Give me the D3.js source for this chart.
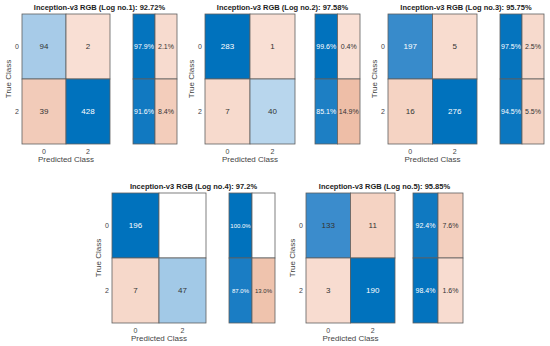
<!DOCTYPE html>
<html>
<head>
<meta charset="utf-8">
<script src="https://cdnjs.cloudflare.com/ajax/libs/d3/7.8.5/d3.min.js"></script>
<style>
body { margin: 0; background: #fff; }
svg { font-family: "Liberation Sans", Arial, sans-serif; }
</style>
</head>
<body>
<div id="svg"></div>
<script>

// data
var classLabels = ["0", "2"];
var logNames = ["Log no.1", "Log no.2", "Log no.3", "Log no.4", "Log no.5"];
var accuracies = ["92.72%", "97.58%", "95.75%", "97.2%", "95.85%"];
var counts = [
    [[94, 2], [39, 428]],
    [[283, 1], [7, 40]],
    [[197, 5], [16, 276]],
    [[196, 0], [7, 47]],
    [[133, 11], [3, 190]]
];
var rowPct = [
    [[97.9, 2.1], [91.6, 8.4]],
    [[99.6, 0.4], [85.1, 14.9]],
    [[97.5, 2.5], [94.5, 5.5]],
    [[100.0, 0], [87.0, 13.0]],
    [[92.4, 7.6], [98.4, 1.6]]
];

// panel boxes (matrix x/width, summary x/width, top, bottom)
var boxes = [
    {mx: 22,  mw: 88, sx: 133, sw: 44, top: 14,  bot: 144},
    {mx: 205, mw: 90, sx: 315, sw: 45, top: 14,  bot: 144},
    {mx: 388, mw: 89, sx: 500, sw: 44, top: 14,  bot: 144},
    {mx: 112, mw: 94, sx: 229, sw: 46, top: 193, bot: 323},
    {mx: 306, mw: 89, sx: 413, sw: 50, top: 193, bot: 323}
];

var svg = d3.select("#svg").append("svg")
    .attr("width", 550)
    .attr("height", 346);

var blue = d3.scaleLinear()
    .domain([0, 0.2, 0.7, 1])
    .range(["#d8e8f5", "#abcee9", "#3b8ccc", "#0072bd"])
    .clamp(true);
var orange = d3.scaleLinear()
    .domain([0, 0.15])
    .range(["#f9e0d5", "#eebea7"])
    .clamp(true);

function cellColor(diag, t, v) {
    if (v === 0) return "#ffffff";
    return diag ? blue(t) : orange(t);
}

boxes.forEach(function(b, p) {
    var g = svg.append("g");
    var m = counts[p];
    var maxV = d3.max(m.flat());

    var x = d3.scaleBand().domain(classLabels).range([b.mx, b.mx + b.mw]);
    var y = d3.scaleBand().domain(classLabels).range([b.top, b.bot]);
    var xs = d3.scaleBand().domain([0, 1]).range([b.sx, b.sx + b.sw]);

    var cells = [];
    m.forEach(function(row, i) {
        row.forEach(function(v, j) {
            cells.push({i: i, j: j, v: v, t: v / maxV});
        });
    });

    var cg = g.selectAll(".cell").data(cells).enter().append("g");
    cg.append("rect")
        .attr("x", function(d) { return x(classLabels[d.j]); })
        .attr("y", function(d) { return y(classLabels[d.i]); })
        .attr("width", x.bandwidth())
        .attr("height", y.bandwidth())
        .attr("fill", function(d) { return cellColor(d.i === d.j, d.t, d.v); })
        .attr("stroke", "#5f5f5f")
        .attr("stroke-width", 0.8);
    cg.filter(function(d) { return d.v > 0; }).append("text")
        .attr("x", function(d) { return x(classLabels[d.j]) + x.bandwidth() / 2; })
        .attr("y", function(d) { return y(classLabels[d.i]) + y.bandwidth() / 2; })
        .attr("dy", "0.35em")
        .attr("text-anchor", "middle")
        .attr("font-size", 8)
        .attr("fill", function(d) { return (d.i === d.j && d.t > 0.705) ? "#ffffff" : "#333"; })
        .text(function(d) { return d.v; });

    // row summary
    var sc = [];
    rowPct[p].forEach(function(row, i) {
        row.forEach(function(v, j) {
            sc.push({i: i, j: j, v: v, t: v / 100});
        });
    });
    var small = p === 3;
    var sg = g.selectAll(".sum").data(sc).enter().append("g");
    sg.append("rect")
        .attr("x", function(d) { return xs(d.j); })
        .attr("y", function(d) { return y(classLabels[d.i]); })
        .attr("width", xs.bandwidth())
        .attr("height", y.bandwidth())
        .attr("fill", function(d) { return cellColor(d.j === 0, d.t, d.v); })
        .attr("stroke", "#5f5f5f")
        .attr("stroke-width", 0.8);
    sg.filter(function(d) { return d.v > 0; }).append("text")
        .attr("x", function(d) { return xs(d.j) + xs.bandwidth() / 2; })
        .attr("y", function(d) { return y(classLabels[d.i]) + y.bandwidth() / 2; })
        .attr("dy", "0.35em")
        .attr("text-anchor", "middle")
        .attr("font-size", small ? 6 : 7)
        .attr("fill", function(d) { return d.j === 0 ? "#ffffff" : "#333"; })
        .text(function(d) { return d.v.toFixed(1) + "%"; });

    // ticks
    g.selectAll(".yt").data(classLabels).enter().append("text")
        .attr("x", b.mx - 5)
        .attr("y", function(d) { return y(d) + y.bandwidth() / 2; })
        .attr("dy", "0.35em")
        .attr("text-anchor", "middle")
        .attr("font-size", 7)
        .attr("fill", "#444")
        .text(function(d) { return d; });
    g.selectAll(".xt").data(classLabels).enter().append("text")
        .attr("x", function(d) { return x(d) + x.bandwidth() / 2; })
        .attr("y", b.bot + 10)
        .attr("text-anchor", "middle")
        .attr("font-size", 7)
        .attr("fill", "#444")
        .text(function(d) { return d; });

    g.append("text")
        .attr("x", b.mx + b.mw / 2)
        .attr("y", b.bot + 18)
        .attr("text-anchor", "middle")
        .attr("font-size", 8)
        .attr("fill", "#444")
        .text("Predicted Class");
    g.append("text")
        .attr("transform", "translate(" + (b.mx - 11) + "," + ((b.top + b.bot) / 2) + ") rotate(-90)")
        .attr("text-anchor", "middle")
        .attr("font-size", 8)
        .attr("fill", "#444")
        .text("True Class");

    g.append("text")
        .attr("x", (b.mx + b.sx + b.sw) / 2)
        .attr("y", b.top - 4)
        .attr("text-anchor", "middle")
        .attr("font-size", 7.5)
        .attr("font-weight", "bold")
        .attr("fill", "#222")
        .text("Inception-v3 RGB (" + logNames[p] + "): " + accuracies[p]);
});

</script>
</body>
</html>
